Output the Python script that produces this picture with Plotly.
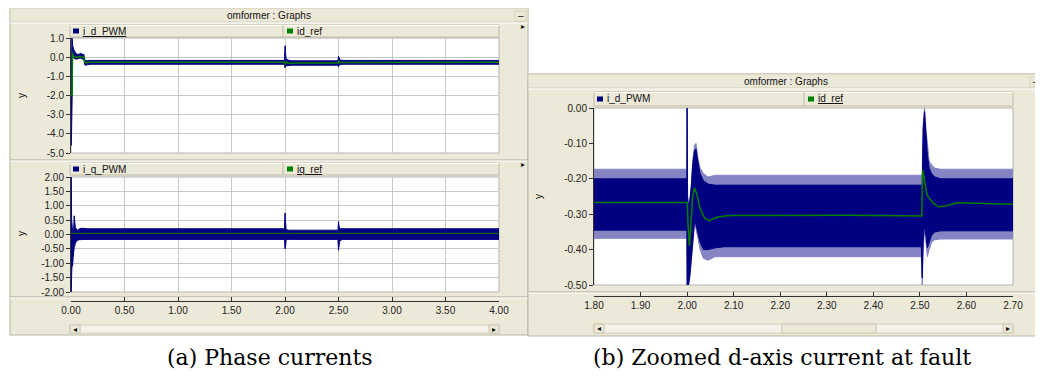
import plotly.graph_objects as go

# the page body keeps its default 8 px margin, so the figure is 8 px smaller
# and every pixel position below is measured on the full 1043x376 screenshot
OFF = 8
W, H = 1043 - OFF, 376 - OFF
PANEL = "#ECE9D8"
NAVY = "#000080"
LIGHT_NAVY = "#8585c4"
GREEN = "#008000"
GRID = "#C8C8C8"
UI_FONT = "Liberation Sans"

# ---------------- data ----------------
# (a) top: i_d_PWM envelope (min / max of the PWM ripple) and id_ref, 0..4 s
t_id = [0.000, 0.003, 0.008, 0.012, 0.016, 0.020, 0.025, 0.035, 0.045, 0.060, 0.075,
        0.090, 0.105, 0.120, 0.128, 0.140, 0.160, 0.200, 1.995, 2.000, 2.005, 2.010,
        2.030, 2.060, 2.495, 2.500, 2.510, 2.520, 2.550, 4.000]
id_hi = [-2.6, -1.0, 1.0, 0.9, 0.6, 0.45, 0.4, 0.3, 0.2, 0.15, 0.15,
         0.2, 0.15, 0.15, -0.1, -0.2, -0.17, -0.17, -0.17, 0.6, -0.05, -0.1,
         -0.15, -0.19, -0.19, 0.05, -0.1, -0.15, -0.17, -0.17]
id_lo = [-4.6, -4.6, -3.0, -0.5, 0.0, 0.05, 0.0, -0.1, -0.1, -0.1, -0.05,
         -0.05, -0.1, -0.1, -0.4, -0.42, -0.38, -0.37, -0.37, -0.55, -0.5, -0.45,
         -0.43, -0.42, -0.42, -0.5, -0.4, -0.38, -0.37, -0.37]
t_idref = [0.0, 0.010, 0.013, 0.020, 0.040, 0.060, 0.080, 0.100, 0.120, 0.128, 0.140,
           0.160, 2.000, 2.003, 2.012, 2.020, 2.040, 2.100, 2.500, 2.505, 2.510, 2.540, 4.0]
idref = [-2.0, -2.0, 0.25, 0.05, 0.0, 0.0, 0.05, 0.0, 0.0, -0.25, -0.3,
         -0.27, -0.27, -0.38, -0.23, -0.3, -0.32, -0.305, -0.305, -0.18, -0.25, -0.28, -0.27]

# (a) bottom: i_q_PWM envelope and iq_ref
t_iq = [0.000, 0.003, 0.006, 0.010, 0.015, 0.020, 0.025, 0.030, 0.035, 0.040, 0.050,
        0.060, 0.080, 0.100, 0.150, 1.995, 2.000, 2.005, 2.010, 2.020, 2.040, 2.495,
        2.500, 2.505, 2.510, 2.520, 2.540, 4.000]
iq_hi = [2.0, 2.0, 0.5, 0.2, 0.1, 0.1, 0.2, 0.65, 0.3, 0.25, 0.2,
         0.15, 0.2, 0.22, 0.2, 0.2, 0.75, 0.3, 0.2, 0.16, 0.15, 0.15,
         0.45, 0.3, 0.22, 0.2, 0.2, 0.2]
iq_lo = [-2.0, -2.0, -1.4, -1.0, -1.1, -0.8, -0.5, -0.45, -0.4, -0.3, -0.25,
         -0.2, -0.18, -0.17, -0.17, -0.17, -0.5, -0.45, -0.2, -0.17, -0.17, -0.17,
         -0.55, -0.35, -0.25, -0.2, -0.17, -0.17]
t_iqref = [0.0, 4.0]
iqref = [0.04, 0.04]

# (b) zoom 1.8..2.7 s: outer ripple envelope, dense core of the ripple, id_ref
t_zoom = [1.800, 1.9995, 2.0000, 2.0010, 2.0030, 2.0060, 2.0090, 2.0120, 2.0160, 2.0190,
          2.0230, 2.0280, 2.0350, 2.0450, 2.0600, 2.0800, 2.5030, 2.5050, 2.5070, 2.5100,
          2.5130, 2.5160, 2.5200, 2.5250, 2.5320, 2.5450, 2.7000]
zoom_hi = [-0.173, -0.173, 0.000, -0.250, -0.280, -0.260, -0.220, -0.150, -0.105, -0.100,
           -0.140, -0.170, -0.185, -0.195, -0.190, -0.190, -0.190, -0.190, -0.050, 0.000,
           -0.060, -0.110, -0.150, -0.160, -0.170, -0.173, -0.173]
zoom_lo = [-0.368, -0.368, -0.500, -0.500, -0.500, -0.480, -0.440, -0.380, -0.330, -0.340,
           -0.370, -0.400, -0.425, -0.430, -0.420, -0.420, -0.420, -0.500, -0.400, -0.340,
           -0.380, -0.420, -0.400, -0.380, -0.372, -0.370, -0.370]
core_hi = [-0.200, -0.200, 0.000, -0.250, -0.280, -0.260, -0.220, -0.160, -0.120, -0.115,
           -0.150, -0.185, -0.205, -0.215, -0.218, -0.218, -0.218, -0.218, -0.060, -0.010,
           -0.070, -0.130, -0.170, -0.185, -0.195, -0.200, -0.200]
core_lo = [-0.345, -0.345, -0.500, -0.500, -0.500, -0.470, -0.430, -0.370, -0.320, -0.330,
           -0.355, -0.380, -0.400, -0.400, -0.395, -0.392, -0.392, -0.480, -0.380, -0.330,
           -0.360, -0.395, -0.380, -0.360, -0.350, -0.347, -0.347]
t_zref = [1.800, 2.0005, 2.0020, 2.0050, 2.0080, 2.0120, 2.0160, 2.0200, 2.0280, 2.0380,
          2.0480, 2.0600, 2.0800, 2.1000, 2.3500, 2.5040, 2.5060, 2.5080, 2.5110, 2.5150,
          2.5200, 2.5300, 2.5400, 2.5550, 2.5800, 2.6500, 2.7000]
zref = [-0.267, -0.267, -0.330, -0.390, -0.330, -0.250, -0.225, -0.240, -0.285, -0.312,
        -0.318, -0.310, -0.305, -0.304, -0.303, -0.305, -0.175, -0.190, -0.220, -0.245,
        -0.255, -0.270, -0.279, -0.277, -0.268, -0.270, -0.272]

# tick labels
xa_vals = [0, 0.5, 1, 1.5, 2, 2.5, 3, 3.5, 4]
xa_text = ["0.00", "0.50", "1.00", "1.50", "2.00", "2.50", "3.00", "3.50", "4.00"]
ya_vals = [1, 0, -1, -2, -3, -4, -5]
ya_text = ["1.0", "0.0", "-1.0", "-2.0", "-3.0", "-4.0", "-5.0"]
yq_vals = [2, 1.5, 1, 0.5, 0, -0.5, -1, -1.5, -2]
yq_text = ["2.00", "1.50", "1.00", "0.50", "0.00", "-0.50", "-1.00", "-1.50", "-2.00"]
xb_vals = [1.8, 1.9, 2.0, 2.1, 2.2, 2.3, 2.4, 2.5, 2.6, 2.7]
xb_text = ["1.80", "1.90", "2.00", "2.10", "2.20", "2.30", "2.40", "2.50", "2.60", "2.70"]
yb_vals = [0, -0.1, -0.2, -0.3, -0.4, -0.5]
yb_text = ["0.00", "-0.10", "-0.20", "-0.30", "-0.40", "-0.50"]


def X(p):
    return (p - OFF) / W


def Y(p):
    return 1 - (p - OFF) / H


shapes = []
annotations = []


def rect(x0, y0, x1, y1, fill, line=None, width=1):
    shapes.append(dict(type="rect", xref="paper", yref="paper", layer="below",
                       x0=X(x0), x1=X(x1), y0=Y(y1), y1=Y(y0), fillcolor=fill,
                       line=dict(color=line or fill, width=width if line else 0)))


def hline(x0, x1, y, color, width=1):
    shapes.append(dict(type="line", xref="paper", yref="paper", layer="below",
                       x0=X(x0), x1=X(x1), y0=Y(y), y1=Y(y), line=dict(color=color, width=width)))


def vline(x, y0, y1, color, width=1):
    shapes.append(dict(type="line", xref="paper", yref="paper", layer="below",
                       x0=X(x), x1=X(x), y0=Y(y0), y1=Y(y1), line=dict(color=color, width=width)))


def text(x, y, s, size=10, anchor="center", color="#111", family=UI_FONT, angle=0):
    annotations.append(dict(x=X(x), y=Y(y), xref="paper", yref="paper", text=s, showarrow=False,
                            xanchor=anchor, yanchor="middle", textangle=angle,
                            font=dict(family=family, size=size, color=color)))


def window(x0, y0, x1, y1, title):
    rect(x0, y0, x1, y1, PANEL, "#B9B5A0")
    rect(x0, y0, x1, y0 + 14, PANEL, "#CFCBB5")
    hline(x0, x1, y0 + 15, "#FFFFFF")
    text((x0 + x1) / 2, y0 + 7.5, title)
    rect(x1 - 13, y0 + 3, x1 - 2, y0 + 13, PANEL, "#D8D4C0")
    text(x1 - 7.5, y0 + 7, "–", size=10)


def legend_bar(x0, x1, xdiv, y0, y1, left, right):
    rect(x0, y0, x1, y1, PANEL, "#BEBAA4")
    hline(x0, x1, y0 + 0.5, "#FFFFFF")
    vline(xdiv, y0, y1, "#BEBAA4")
    ym = (y0 + y1) / 2
    rect(x0 + 3, ym - 2.5, x0 + 9, ym + 2.5, NAVY)
    text(x0 + 11, ym, left, anchor="left")
    rect(xdiv + 4, ym - 2.5, xdiv + 10, ym + 2.5, GREEN)
    text(xdiv + 12, ym, right, anchor="left")


def scrollbar(x0, x1, y0, y1, thumb=None):
    rect(x0, y0, x1, y1, "#F3F1EA", "#D6D2BE")
    if thumb:
        rect(thumb[0], y0, thumb[1], y1, PANEL, "#C9C5AF")
    rect(x0, y0, x0 + 10, y1, PANEL, "#C9C5AF")
    rect(x1 - 10, y0, x1, y1, PANEL, "#C9C5AF")
    text(x0 + 5, (y0 + y1) / 2, "◂", size=8)
    text(x1 - 5, (y0 + y1) / 2, "▸", size=8)


# ---------------- window (a) ----------------
window(10, 8, 528, 335, "omformer : Graphs")
legend_bar(70, 499, 283, 25, 37, "<u>i_d_PWM</u>", "id_ref")
rect(71, 38, 499, 153, "#FFFFFF", "#B4B4B4")
hline(10, 528, 160, "#ACA899")
hline(10, 528, 161, "#FFFFFF")
legend_bar(70, 499, 283, 163, 175, "i_q_PWM", "<u>iq_ref</u>")
rect(71, 177, 499, 292, "#FFFFFF", "#B4B4B4")
hline(10, 528, 297, "#ACA899")
hline(10, 528, 298, "#FFFFFF")
scrollbar(70, 499, 325, 333)
text(523, 27, "▸", size=8)
text(523, 165, "▸", size=8)
text(22, 96, "y", angle=-90)
text(22, 234, "y", angle=-90)

# ---------------- window (b) ----------------
window(528, 74, 1043, 336, "omformer : Graphs")
legend_bar(594, 1013, 804, 92, 106, "i_d_PWM", "<u>id_ref</u>")
rect(594, 108, 1013, 285, "#FFFFFF", "#B4B4B4")
hline(528, 1043, 292, "#ACA899")
hline(528, 1043, 293, "#FFFFFF")
scrollbar(594, 1013, 324, 333, thumb=(782, 876))
text(1038, 95, "▸", size=8)
text(538, 197, "y", angle=-90)

# captions
text(270, 357, "(a) Phase currents", size=22, family="DejaVu Serif", color="#000")
text(782, 357, "(b) Zoomed d-axis current at fault", size=22, family="DejaVu Serif", color="#000")

fig = go.Figure()


def band(t, hi, lo, xa, ya, fill, width=1):
    fig.add_trace(go.Scatter(x=t, y=hi, xaxis=xa, yaxis=ya, mode="lines",
                             line=dict(color=fill, width=width), showlegend=False))
    fig.add_trace(go.Scatter(x=t, y=lo, xaxis=xa, yaxis=ya, mode="lines", fill="tonexty",
                             fillcolor=fill, line=dict(color=fill, width=width), showlegend=False))


band(t_id, id_hi, id_lo, "x", "y", NAVY)
fig.add_trace(go.Scatter(x=t_idref, y=idref, xaxis="x", yaxis="y", mode="lines",
                         line=dict(color=GREEN, width=1.5), showlegend=False))
band(t_iq, iq_hi, iq_lo, "x2", "y2", NAVY)
fig.add_trace(go.Scatter(x=t_iqref, y=iqref, xaxis="x2", yaxis="y2", mode="lines",
                         line=dict(color=GREEN, width=1), showlegend=False))
band(t_zoom, zoom_hi, zoom_lo, "x3", "y3", LIGHT_NAVY)
band(t_zoom, core_hi, core_lo, "x3", "y3", NAVY)
fig.add_trace(go.Scatter(x=t_zref, y=zref, xaxis="x3", yaxis="y3", mode="lines",
                         line=dict(color=GREEN, width=1.5), showlegend=False))

tickfont = dict(family=UI_FONT, size=10, color="#222")
common_y = dict(ticks="outside", ticklen=4, tickcolor="#333", showline=True, linecolor="#333",
                zeroline=False, tickfont=tickfont, fixedrange=True, automargin=False)
common_x = dict(zeroline=False, tickfont=tickfont, fixedrange=True, automargin=False)

fig.update_layout(
    template="none",
    width=W, height=H, autosize=False, margin=dict(l=0, r=0, t=0, b=0, pad=0, autoexpand=False),
    paper_bgcolor="#FFFFFF", plot_bgcolor="#FFFFFF",
    shapes=shapes, annotations=annotations,
    xaxis=dict(domain=[X(71), X(499)], range=[0, 4], anchor="y", tickvals=xa_vals,
               showticklabels=False, ticks="", showline=False, showgrid=True,
               gridcolor=GRID, **common_x),
    yaxis=dict(domain=[Y(153), Y(38)], range=[-5, 1], anchor="x", tickvals=ya_vals,
               ticktext=ya_text, showgrid=True, gridcolor=GRID, **common_y),
    xaxis2=dict(domain=[X(71), X(499)], range=[0, 4], anchor="free", position=Y(301),
                tickvals=xa_vals, ticktext=xa_text, ticks="inside", ticklen=4, tickcolor="#333",
                showline=True, linecolor="#333", showgrid=True, gridcolor=GRID, **common_x),
    yaxis2=dict(domain=[Y(292), Y(177)], range=[-2, 2], anchor="x2", tickvals=yq_vals,
                ticktext=yq_text, showgrid=True, gridcolor=GRID, **common_y),
    xaxis3=dict(domain=[X(594), X(1013)], range=[1.8, 2.7], anchor="free", position=Y(296),
                tickvals=xb_vals, ticktext=xb_text, ticks="inside", ticklen=4, tickcolor="#333",
                showline=True, linecolor="#333", showgrid=False, **common_x),
    yaxis3=dict(domain=[Y(285), Y(108)], range=[-0.5, 0], anchor="x3", tickvals=yb_vals,
                ticktext=yb_text, showgrid=False, **common_y),
)

fig.write_html("out.html")
